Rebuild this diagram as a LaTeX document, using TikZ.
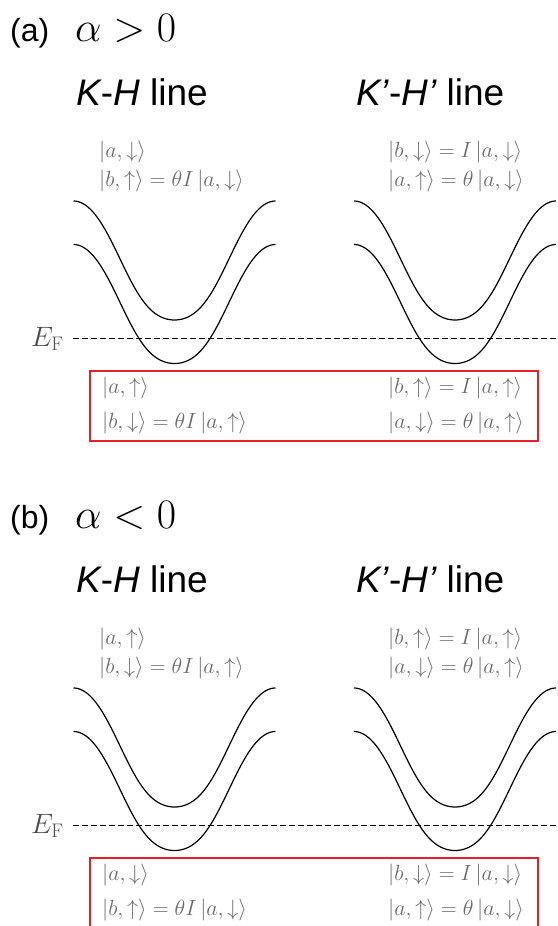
\RequirePackage{fix-cm}
\documentclass[tikz,border=0pt]{standalone}
\usepackage{fontspec}
\newfontfamily\helv{Liberation Sans}
\usepackage{amsmath}
\usetikzlibrary{positioning}

\definecolor{boxred}{RGB}{230,32,42}
\definecolor{labgray}{gray}{0.42}
\definecolor{efgray}{gray}{0.3}

\tikzset{
  band/.style={line width=1.2pt, black},
  fermi/.style={dash pattern=on 5.5pt off 3.5pt, line width=0.9pt},
  statebox/.style={draw=boxred, line width=2.4pt},
  paneltag/.style={font=\helv\fontsize{32}{32}\selectfont, anchor=base west, inner sep=0pt},
  panelcond/.style={font=\fontsize{42}{42}\selectfont, anchor=base west, inner sep=0pt},
  linetitle/.style={font=\helv\fontsize{37}{37}\selectfont, anchor=base west, inner sep=0pt},
  state/.style={font=\fontsize{22}{22}\selectfont, text=labgray, anchor=base west, inner sep=0pt},
  eflabel/.style={font=\fontsize{28}{28}\selectfont, text=efgray, anchor=base west, inner sep=0pt},
  declare function={
    wellc(\t) = 0.5+0.5*cos(1.78218*\t);
    well(\t)  = wellc(\t)+0.45*wellc(\t)^2*(1-wellc(\t));
  },
}

% two bands of one valley: well centred at x=#1, upper band starts at y=#2
\newcommand{\bandpair}[2]{
  \draw[band] plot[domain=-101:101, samples=101, smooth]
    ({#1+\x}, {#2+119*well(\x)});
  \draw[band] plot[domain=-101:101, samples=101, smooth]
    ({#1+\x}, {#2+43.5+119*well(\x)});
}

\begin{document}
\begin{tikzpicture}[x=1pt, y=-1pt]
  \path[use as bounding box, clip] (0,0) rectangle (557,926);

  % ---------- (a) alpha > 0 ----------
  \node[paneltag] (tagA) at (10,41) {(a)};
  \node[panelcond] (condA) at (75,41) {$\alpha > 0$};
  \node[linetitle] (khA) at (76,105) {{\itshape K}-{\itshape H} line};
  \node[linetitle] (khpA) at (356,105) {{\itshape K’}-{\itshape H’} line};

  % states above E_F
  \node[state] (upA1) at (99,157) {$\lvert a,\downarrow\rangle$};
  \node[state] (upA2) at (99,186) {$\lvert b,\uparrow\rangle = \theta I\,\lvert a,\downarrow\rangle$};
  \node[state] (upA3) at (388,157) {$\lvert b,\downarrow\rangle = I\,\lvert a,\downarrow\rangle$};
  \node[state] (upA4) at (388,186) {$\lvert a,\uparrow\rangle = \theta\,\lvert a,\downarrow\rangle$};

  % bands and Fermi level
  \bandpair{174.5}{201}
  \bandpair{455}{201}
  \node[eflabel] (efA) at (31,346) {$E_{\mathrm{F}}$};
  \coordinate (efA0) at (73,338);
  \coordinate (efA1) at (557,338);
  \draw[fermi] (efA0) -- (efA1);

  % states below E_F
  \draw[statebox] (90,371) rectangle (538,441);
  \node[state] (dnA1) at (102,393) {$\lvert a,\uparrow\rangle$};
  \node[state] (dnA2) at (102,428) {$\lvert b,\downarrow\rangle = \theta I\,\lvert a,\uparrow\rangle$};
  \node[state] (dnA3) at (388,393) {$\lvert b,\uparrow\rangle = I\,\lvert a,\uparrow\rangle$};
  \node[state] (dnA4) at (388,428) {$\lvert a,\downarrow\rangle = \theta\,\lvert a,\uparrow\rangle$};

  % ---------- (b) alpha < 0 ----------
  \begin{scope}[shift={(0,487)}]
    \node[paneltag] (tagB) at (10,41) {(b)};
    \node[panelcond] (condB) at (75,41) {$\alpha < 0$};
    \node[linetitle] (khB) at (76,105) {{\itshape K}-{\itshape H} line};
    \node[linetitle] (khpB) at (356,105) {{\itshape K’}-{\itshape H’} line};

    % states above E_F
    \node[state] (upB1) at (99,157) {$\lvert a,\uparrow\rangle$};
    \node[state] (upB2) at (99,186) {$\lvert b,\downarrow\rangle = \theta I\,\lvert a,\uparrow\rangle$};
    \node[state] (upB3) at (388,157) {$\lvert b,\uparrow\rangle = I\,\lvert a,\uparrow\rangle$};
    \node[state] (upB4) at (388,186) {$\lvert a,\downarrow\rangle = \theta\,\lvert a,\uparrow\rangle$};

    % bands and Fermi level
    \bandpair{174.5}{201}
    \bandpair{455}{201}
    \node[eflabel] (efB) at (31,346) {$E_{\mathrm{F}}$};
    \coordinate (efB0) at (73,338);
    \coordinate (efB1) at (557,338);
    \draw[fermi] (efB0) -- (efB1);

    % states below E_F
    \draw[statebox] (90,371) rectangle (538,441);
    \node[state] (dnB1) at (102,393) {$\lvert a,\downarrow\rangle$};
    \node[state] (dnB2) at (102,428) {$\lvert b,\uparrow\rangle = \theta I\,\lvert a,\downarrow\rangle$};
    \node[state] (dnB3) at (388,393) {$\lvert b,\downarrow\rangle = I\,\lvert a,\downarrow\rangle$};
    \node[state] (dnB4) at (388,428) {$\lvert a,\uparrow\rangle = \theta\,\lvert a,\downarrow\rangle$};
  \end{scope}
\end{tikzpicture}
\end{document}
